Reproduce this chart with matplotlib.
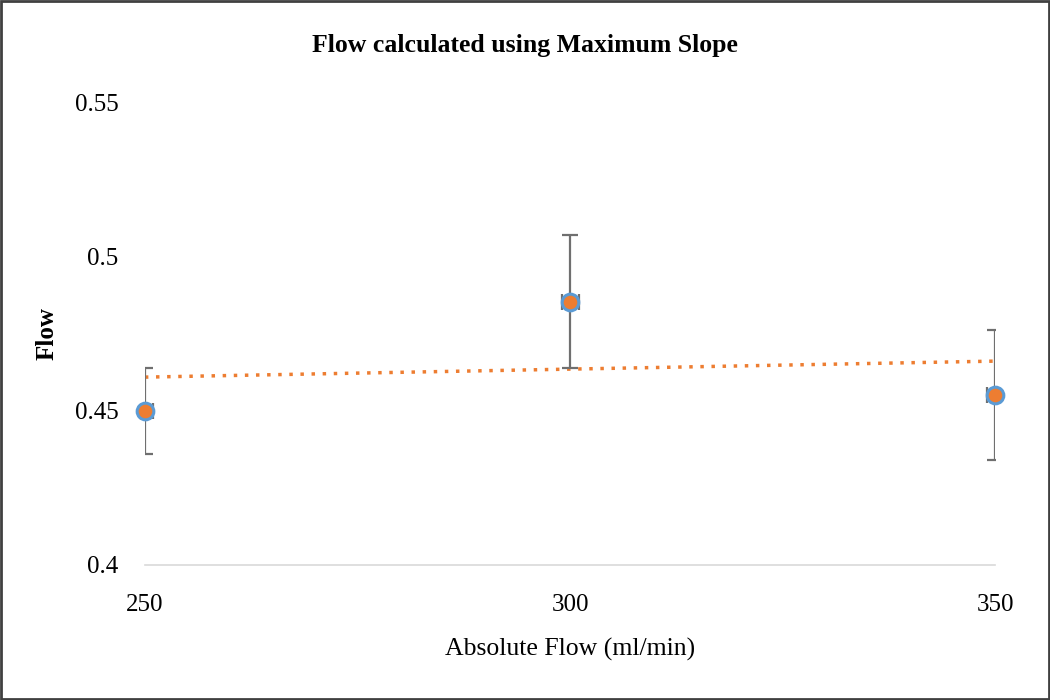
import numpy as np
import matplotlib.pyplot as plt
from matplotlib.patches import Rectangle

plt.rcParams['font.family'] = ['Liberation Serif', 'DejaVu Serif']

# Data
abs_flow = [250, 300, 350]
flow = [0.450, 0.4855, 0.4552]
flow_err = [0.014, 0.0215, 0.021]
x_err = [1.0, 1.0, 1.0]
y_ticks = [0.4, 0.45, 0.5, 0.55]
y_tick_labels = ['0.4', '0.45', '0.5', '0.55']
x_ticks = [250, 300, 350]


def main():
    fig = plt.figure(figsize=(10.5, 7), dpi=100)
    ax = fig.add_axes([0.138, 0.193, 0.81, 0.66])

    # linear trend line
    coef = np.polyfit(abs_flow, flow, 1)
    tx = np.array([abs_flow[0], abs_flow[-1]])
    ax.plot(tx, np.polyval(coef, tx), linestyle=(0, (1, 2.2)), color='#ED7D31',
            linewidth=2.5, zorder=2)

    ax.errorbar(abs_flow, flow, yerr=flow_err, xerr=x_err, fmt='none',
                ecolor='#6f6f6f', elinewidth=1.6, capsize=5.5, capthick=1.6, zorder=3)
    ax.plot(abs_flow, flow, 'o', markersize=12, markerfacecolor='#ED7D31',
            markeredgecolor='#5B9BD5', markeredgewidth=2.2, zorder=4, clip_on=False)

    ax.set_xlim(250, 350)
    ax.set_ylim(0.4, 0.55)
    ax.set_xticks(x_ticks)
    ax.set_yticks(y_ticks)
    ax.set_yticklabels(y_tick_labels)
    ax.tick_params(axis='both', length=0, labelsize=18)
    ax.tick_params(axis='x', pad=21)
    ax.tick_params(axis='y', pad=19)
    for s in ['top', 'right', 'left']:
        ax.spines[s].set_visible(False)
    ax.spines['bottom'].set_color('#d9d9d9')
    ax.spines['bottom'].set_linewidth(1.2)

    ax.set_xlabel('Absolute Flow (ml/min)', fontsize=18.5, labelpad=16)
    ax.set_ylabel('Flow', fontsize=18, fontweight='bold', labelpad=12)
    fig.text(0.5, 0.935, 'Flow calculated using Maximum Slope', ha='center',
             va='center', fontsize=18.5, fontweight='bold')

    fig.patches.append(Rectangle((0.001, 0.001), 0.998, 0.998, transform=fig.transFigure,
                                 fill=False, edgecolor='#404040', linewidth=2))
    fig.savefig('out.png', dpi=100)


if __name__ == "__main__":
    main()
